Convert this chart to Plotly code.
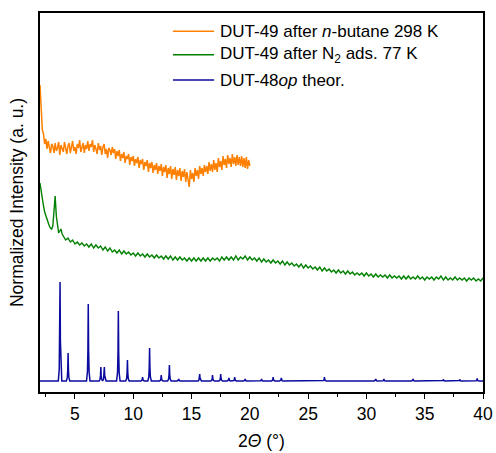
import numpy as np
import plotly.graph_objects as go

# ---------------- data (y in arbitrary, normalized units) ----------------
series_names = [
    "DUT-49 after <i>n</i>-butane 298 K",
    "DUT-49 after N<sub>2</sub> ads. 77 K",
    "DUT-48<i>op</i> theor.",
]
series_colors = ["#FF8000", "#008000", "#0A0A9E"]

# orange: 2.0 .. 20.0 deg, step 0.1
orange_x0, orange_dx = 2.0, 0.1
orange_y = [
    307, 285, 262, 258, 248, 253, 243, 251, 246, 239,
    248, 246, 239, 249, 241, 244, 250, 237, 247, 242,
    240, 250, 243, 238, 246, 249, 239, 244, 251, 241,
    245, 238, 248, 244, 252, 240, 246, 249, 239, 247,
    243, 251, 241, 248, 245, 252, 240, 247, 243, 238,
    249, 242, 246, 237, 245, 248, 238, 243, 234, 244,
    242, 237, 245, 239, 243, 233, 241, 236, 242, 231,
    238, 234, 240, 229, 236, 233, 238, 227, 235, 231,
    236, 226, 233, 229, 235, 224, 232, 228, 233, 222,
    230, 226, 232, 220, 229, 224, 230, 219, 227, 222,
    229, 218, 226, 221, 228, 216, 225, 220, 227, 214,
    224, 218, 226, 213, 223, 217, 225, 212, 222, 216,
    224, 211, 221, 215, 223, 210, 220, 214, 205, 222,
    213, 219, 210, 224, 216, 222, 213, 226, 218, 224,
    216, 227, 220, 226, 218, 230, 221, 228, 220, 232,
    222, 229, 220, 234, 225, 231, 222, 236, 227, 233,
    224, 237, 228, 234, 225, 238, 228, 235, 226, 237,
    227, 235, 226, 236, 225, 234, 224, 235, 223, 232,
    226,
]

# green: low-angle part (explicit x) then 4.0 .. 40.0 deg, step 0.2
green_x_low = [2.0, 2.1, 2.2, 2.3, 2.4, 2.5, 2.6, 2.7, 2.8, 2.9,
               3.0, 3.1, 3.2, 3.3, 3.4, 3.5, 3.6, 3.7, 3.8, 3.9]
green_y_low = [209, 200, 192, 186, 180, 176, 172, 169, 166, 164,
               163, 166, 180, 196, 176, 164, 159, 161, 163, 158]
green_x0, green_dx = 4.0, 0.2
green_y = [
    156, 152, 154, 150, 152, 148, 150, 147, 149, 146,
    148, 145, 148, 144, 147, 144, 146, 142, 145, 141,
    144, 140, 142, 139, 142, 138, 141, 138, 140, 137,
    139, 136, 139, 136, 138, 135, 138, 135, 137, 134,
    137, 134, 136, 133, 136, 133, 136, 132, 135, 132,
    135, 132, 134, 131, 134, 131, 134, 131, 134, 131,
    134, 131, 134, 131, 134, 132, 134, 131, 135, 132,
    135, 132, 135, 132, 136, 132, 135, 133, 136, 132,
    135, 132, 134, 131, 134, 130, 133, 130, 132, 129,
    132, 129, 131, 128, 131, 127, 130, 127, 129, 126,
    128, 125, 128, 124, 127, 124, 126, 123, 125, 122,
    125, 121, 124, 121, 123, 120, 122, 119, 122, 119,
    121, 118, 121, 118, 120, 117, 119, 117, 119, 116,
    119, 116, 118, 115, 118, 115, 117, 115, 117, 114,
    117, 114, 116, 114, 116, 113, 116, 113, 116, 113,
    115, 113, 116, 113, 115, 112, 115, 113, 115, 112,
    115, 113, 116, 112, 115, 112, 114, 112, 115, 112,
    114, 112, 114, 111, 114, 112, 114, 111, 113, 111,
    114,
]

# blue: theoretical pattern, peak positions (deg) and apex heights
blue_baseline = 11
blue_range = [2.0, 40.0]
peak_pos = [3.72, 4.41, 6.14, 7.22, 7.52, 8.72, 9.50, 10.80, 11.40, 12.40,
            13.10, 13.90, 15.70, 16.80, 17.50, 18.20, 18.70, 19.60, 21.00,
            22.00, 22.70, 26.40, 30.80, 31.50, 34.00, 36.60, 38.00, 39.50]
peak_top = [110, 39, 88, 25, 25, 81, 32, 15, 44, 17,
            27, 13, 18, 17, 18, 14, 15, 13, 13,
            15, 14, 15, 13, 13, 13, 12.5, 12.5, 13.5]

x_ticks = [5, 10, 15, 20, 25, 30, 35, 40]

# ---------------- build traces ----------------
orange_x = np.round(orange_x0 + orange_dx * np.arange(len(orange_y)), 2)
green_x = list(green_x_low) + list(np.round(green_x0 + green_dx * np.arange(len(green_y)), 2))
green_all = list(green_y_low) + list(green_y)

# peak shape (style): offsets and fraction of height
shape_dx = [-0.15, -0.07, -0.03, 0.0, 0.03, 0.07, 0.15]
shape_f = [0.0, 0.12, 0.4, 1.0, 0.4, 0.12, 0.0]
bx = [blue_range[0]]
by = [blue_baseline]
for p, h in zip(peak_pos, peak_top):
    for d, f in zip(shape_dx, shape_f):
        bx.append(p + d)
        by.append(blue_baseline + f * (h - blue_baseline))
bx.append(blue_range[1])
by.append(blue_baseline)

fig = go.Figure()
fig.add_trace(go.Scatter(x=orange_x, y=orange_y, mode="lines",
                         line=dict(color=series_colors[0], width=1.5),
                         name=series_names[0], showlegend=False))
fig.add_trace(go.Scatter(x=green_x, y=green_all, mode="lines",
                         line=dict(color=series_colors[1], width=1.4),
                         name=series_names[1], showlegend=False))
fig.add_trace(go.Scatter(x=bx, y=by, mode="lines",
                         line=dict(color=series_colors[2], width=1.5),
                         name=series_names[2], showlegend=False))

FONT = "Liberation Sans, Arial, sans-serif"

# manual legend (paper coordinates)
leg_rows_y = [0.952, 0.890, 0.823]
for name, col, yy in zip(series_names, series_colors, leg_rows_y):
    fig.add_shape(type="line", xref="paper", yref="paper",
                  x0=0.300, x1=0.393, y0=yy, y1=yy,
                  line=dict(color=col, width=1.5))
    fig.add_annotation(xref="paper", yref="paper", x=0.404, y=yy,
                       xanchor="left", yanchor="middle", showarrow=False,
                       borderpad=0,
                       text=name, font=dict(family=FONT, size=17, color="black"))

fig.update_layout(
    width=496, height=453,
    margin=dict(l=40, r=13, t=13, b=61),
    paper_bgcolor="white", plot_bgcolor="white",
    font=dict(family=FONT, size=17.5, color="black"),
    showlegend=False,
)
fig.update_xaxes(
    automargin=False,
    range=[2, 40], tickvals=x_ticks, ticks="outside", ticklen=5, tickwidth=1.3,
    tickcolor="black", showline=True, linecolor="black", linewidth=1.5,
    mirror=True, showgrid=False, zeroline=False,
    minor=dict(ticks="outside", dtick=2.5, tick0=2.5, ticklen=3, tickcolor="black", tickwidth=1.3),
    title=dict(text="2<i>Θ</i> (°)", standoff=12, font=dict(size=17.5)),
    tickfont=dict(size=17.5),
)
fig.update_yaxes(
    automargin=False,
    range=[0, 379], showticklabels=False, ticks="", showline=True,
    linecolor="black", linewidth=1.5, mirror=True, showgrid=False, zeroline=False,
    title=dict(text="Normalized Intensity (a. u.)", standoff=10, font=dict(size=17.5)),
)

fig.write_html("out.html")
